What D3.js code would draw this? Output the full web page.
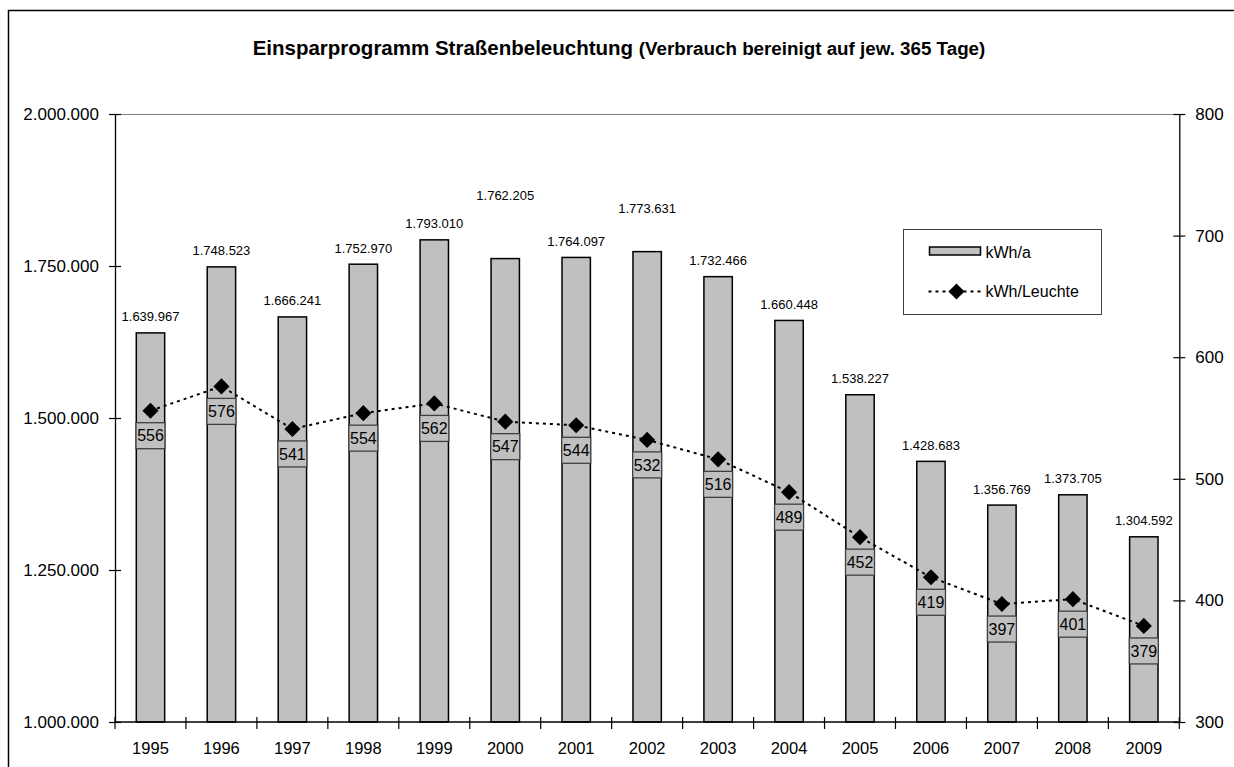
<!DOCTYPE html>
<html>
<head>
<meta charset="utf-8">
<script src="https://cdn.jsdelivr.net/npm/d3@7"></script>
<style>
  body { margin: 0; background: #fff; }
  svg text { font-family: "Liberation Sans", Arial, sans-serif; }
</style>
</head>
<body>
<div id="chart"></div>
<script>
var years = ['1995','1996','1997','1998','1999','2000','2001','2002','2003','2004','2005','2006','2007','2008','2009']
var kwhYear = [1639967,1748523,1666241,1752970,1793010,1762205,1764097,1773631,1732466,1660448,1538227,1428683,1356769,1373705,1304592]
var kwhLamp = [556,576,541,554,562,547,544,532,516,489,452,419,397,401,379]
var leftTicks = [1000000,1250000,1500000,1750000,2000000]
var rightTicks = [300,400,500,600,700,800]

// a few bar labels were moved up by hand in the original
var labelShift = [0,0,0,0,0,47,0,27,0,0,0,0,0,0,0]

var W = 1234, H = 767
var margin = { top: 114, right: 1234 - 1179.3, bottom: 767 - 722, left: 115 }
var w = W - margin.left - margin.right
var h = H - margin.top - margin.bottom

var de = d3.formatLocale({ decimal: ',', thousands: '.', grouping: [3], currency: ['', ' €'] })
var fmt = de.format(',')

var svg = d3.select('#chart').append('svg')
  .attr('width', W).attr('height', H)

// outer chart frame
svg.append('rect')
  .attr('x', 8.5).attr('y', 10.5)
  .attr('width', 1300).attr('height', 900)
  .attr('fill', 'none').attr('stroke', '#000').attr('stroke-width', 1.5)

svg.append('text')
  .attr('x', 619).attr('y', 55)
  .attr('text-anchor', 'middle')
  .style('font-weight', 'bold')
  .call(function(t) {
    t.append('tspan').style('font-size', '20.5px').text('Einsparprogramm Straßenbeleuchtung ')
    t.append('tspan').style('font-size', '18.8px').text('(Verbrauch bereinigt auf jew. 365 Tage)')
  })

var g = svg.append('g')
  .attr('transform', 'translate(' + margin.left + ',' + margin.top + ')')

var x = d3.scaleBand().domain(years).range([0, w])
var yL = d3.scaleLinear().domain([1000000, 2000000]).range([h, 0])
var yR = d3.scaleLinear().domain([300, 800]).range([h, 0])
var bw = x.bandwidth() * 0.4

// plot area top border
g.append('line')
  .attr('x1', 0).attr('x2', w).attr('y1', 0.5).attr('y2', 0.5)
  .attr('stroke', '#808080').attr('stroke-width', 1.2)

// bars
g.selectAll('.bar')
  .data(kwhYear)
  .enter().append('rect')
  .attr('class', 'bar')
  .attr('x', function(d, i) { return x(years[i]) + x.bandwidth() / 2 - bw / 2 })
  .attr('y', function(d) { return yL(d) })
  .attr('width', bw)
  .attr('height', function(d) { return h - yL(d) })
  .attr('fill', '#c0c0c0')
  .attr('stroke', '#000')
  .attr('stroke-width', 1.5)

g.selectAll('.barlabel')
  .data(kwhYear)
  .enter().append('text')
  .attr('class', 'barlabel')
  .attr('x', function(d, i) { return x(years[i]) + x.bandwidth() / 2 })
  .attr('y', function(d, i) { return yL(d) - 16 - labelShift[i] })
  .attr('dy', '0.35em')
  .attr('text-anchor', 'middle')
  .style('font-size', '13px')
  .text(function(d) { return fmt(d) })

// axes
var axL = d3.axisLeft(yL).tickValues(leftTicks).tickFormat(fmt).tickSizeInner(6).tickSizeOuter(0).tickPadding(10)
var axR = d3.axisRight(yR).tickValues(rightTicks).tickSizeInner(6).tickSizeOuter(0).tickPadding(10)

function styleAxis(sel) {
  sel.select('.domain').attr('stroke', '#000').attr('stroke-width', 1.3)
  sel.selectAll('.tick line').attr('stroke', '#000').attr('stroke-width', 1.2)
  sel.selectAll('.tick text').style('font-size', '17px').attr('font-family', null).attr('fill', '#000')
}

var gl = g.append('g').call(axL).call(styleAxis)
gl.selectAll('.tick line').attr('x1', 6).attr('x2', -6)
var gr = g.append('g').attr('transform', 'translate(' + w + ',0)').call(axR).call(styleAxis)
gr.selectAll('.tick line').attr('x1', -6).attr('x2', 6)

// category axis
var gx = g.append('g').attr('transform', 'translate(0,' + h + ')')
gx.append('line').attr('x1', 0).attr('x2', w).attr('stroke', '#000').attr('stroke-width', 1.5)
gx.selectAll('.xt')
  .data(d3.range(years.length + 1))
  .enter().append('line')
  .attr('x1', function(i) { return i * x.step() })
  .attr('x2', function(i) { return i * x.step() })
  .attr('y1', -5).attr('y2', 7)
  .attr('stroke', '#000').attr('stroke-width', 1.2)
gx.selectAll('.xl')
  .data(years)
  .enter().append('text')
  .attr('x', function(d) { return x(d) + x.bandwidth() / 2 })
  .attr('y', 32)
  .attr('text-anchor', 'middle')
  .style('font-size', '16.5px')
  .text(function(d) { return d })

// kWh/Leuchte line
var line = d3.line()
  .x(function(d, i) { return x(years[i]) + x.bandwidth() / 2 })
  .y(function(d) { return yR(d) })

g.append('path')
  .datum(kwhLamp)
  .attr('d', line)
  .attr('fill', 'none')
  .attr('stroke', '#000')
  .attr('stroke-width', 2)
  .attr('stroke-dasharray', '3,4')

var diamond = d3.symbol().type(d3.symbolSquare).size(130)

g.selectAll('.mark')
  .data(kwhLamp)
  .enter().append('path')
  .attr('class', 'mark')
  .attr('d', diamond)
  .attr('transform', function(d, i) {
    return 'translate(' + (x(years[i]) + x.bandwidth() / 2) + ',' + yR(d) + ') rotate(45)'
  })
  .attr('fill', '#000')

var lab = g.selectAll('.lamplabel')
  .data(kwhLamp)
  .enter().append('g')
  .attr('class', 'lamplabel')
  .attr('transform', function(d, i) {
    return 'translate(' + (x(years[i]) + x.bandwidth() / 2) + ',' + (yR(d) + 25) + ')'
  })
lab.append('rect')
  .attr('x', -14.5).attr('y', -13).attr('width', 29).attr('height', 26)
  .attr('fill', '#c0c0c0').attr('stroke', '#404040').attr('stroke-width', 1.3)
lab.append('text')
  .attr('text-anchor', 'middle')
  .attr('dy', '0.36em')
  .style('font-size', '16px')
  .text(function(d) { return d })

// legend
var lg = svg.append('g').attr('transform', 'translate(903.5,229.5)')
lg.append('rect').attr('width', 198).attr('height', 85)
  .attr('fill', '#fff').attr('stroke', '#404040').attr('stroke-width', 1)
lg.append('rect').attr('x', 26).attr('y', 17.5).attr('width', 51).attr('height', 8)
  .attr('fill', '#c0c0c0').attr('stroke', '#000').attr('stroke-width', 1.5)
lg.append('text').attr('x', 82).attr('y', 22.5).attr('dy', '0.35em')
  .style('font-size', '16px').text('kWh/a')
lg.append('line').attr('x1', 25).attr('x2', 81).attr('y1', 62).attr('y2', 62)
  .attr('stroke', '#000').attr('stroke-width', 2).attr('stroke-dasharray', '3,4')
lg.append('path').attr('d', diamond)
  .attr('transform', 'translate(53,62) rotate(45)').attr('fill', '#000')
lg.append('text').attr('x', 82).attr('y', 62).attr('dy', '0.35em')
  .style('font-size', '16px').text('kWh/Leuchte')
</script>
</body>
</html>
